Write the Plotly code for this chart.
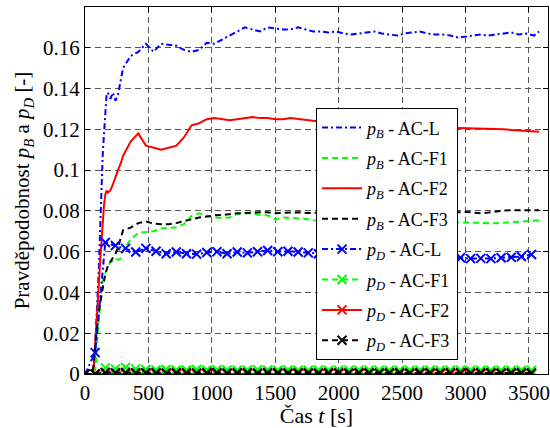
import plotly.graph_objects as go

# ---------------- data ----------------
t_B = [0, 50, 60, 70, 80, 90, 100, 110, 120, 130, 140, 150, 160, 170, 180, 200, 220, 240, 260, 280,
       300, 360, 420, 480, 540, 600, 660, 720, 780, 840, 900, 960, 1020, 1080, 1140, 1200, 1260, 1320,
       1380, 1440, 1500, 1560, 1620, 1680, 1740, 1800, 1860, 1920, 1980, 2040, 2100, 2160, 2220, 2280,
       2340, 2400, 2460, 2520, 2580, 2640, 2700, 2760, 2820, 2880, 2940, 3000, 3060, 3120, 3180, 3240,
       3300, 3360, 3420, 3480, 3540, 3580]

pB_L = [0, 0, 0.001, 0.004, 0.013, 0.025, 0.038, 0.053, 0.072, 0.097, 0.108, 0.118, 0.128, 0.137, 0.138,
        0.135, 0.138, 0.134, 0.137, 0.144, 0.150, 0.156, 0.158, 0.162, 0.158, 0.162, 0.1615, 0.161, 0.159,
        0.158, 0.159, 0.1625, 0.162, 0.164, 0.166, 0.168, 0.170, 0.169, 0.168, 0.170, 0.1695, 0.169, 0.169,
        0.170, 0.169, 0.168, 0.168, 0.1675, 0.168, 0.167, 0.1665, 0.167, 0.1675, 0.168, 0.167, 0.1665, 0.166,
        0.167, 0.1675, 0.168, 0.167, 0.1665, 0.1665, 0.166, 0.165, 0.1655, 0.166, 0.1665, 0.166, 0.1665,
        0.167, 0.1675, 0.1665, 0.167, 0.166, 0.168]

pB_F1 = [0, 0, 0, 0, 0.002, 0.008, 0.019, 0.028, 0.036, 0.042, 0.046, 0.048, 0.050, 0.051, 0.052,
         0.055, 0.0555, 0.0566, 0.056, 0.0565, 0.0606, 0.066, 0.0692, 0.0695, 0.070, 0.0714, 0.0718, 0.072,
         0.0735, 0.0775, 0.0788, 0.0775, 0.0768, 0.0765, 0.0768, 0.0785, 0.0788, 0.0788, 0.078, 0.0778,
         0.0758, 0.0768, 0.0766, 0.0764, 0.076, 0.0754, 0.0752, 0.075, 0.0748, 0.0748, 0.0747, 0.0746,
         0.0746, 0.0745, 0.0745, 0.0744, 0.0744, 0.0744, 0.0744, 0.0744, 0.0744, 0.0744, 0.0744, 0.0744,
         0.0744, 0.0743, 0.0742, 0.0741, 0.074, 0.0739, 0.0742, 0.0745, 0.0748, 0.0751, 0.0753, 0.0754]

pB_F2 = [0, 0, 0, 0.004, 0.013, 0.022, 0.033, 0.045, 0.056, 0.066, 0.076, 0.083, 0.088, 0.090, 0.089,
         0.090, 0.093, 0.097, 0.100, 0.103, 0.107, 0.114, 0.118, 0.112, 0.111, 0.110, 0.111, 0.112, 0.116,
         0.122, 0.123, 0.125, 0.1255, 0.125, 0.1245, 0.125, 0.1255, 0.126, 0.1255, 0.1255, 0.125, 0.125,
         0.1255, 0.125, 0.1245, 0.124, 0.1237, 0.1235, 0.123, 0.123, 0.1228, 0.1225, 0.1222, 0.122, 0.122,
         0.1218, 0.1215, 0.1215, 0.1212, 0.121, 0.121, 0.1208, 0.1208, 0.1207, 0.1207, 0.1206, 0.1205,
         0.1205, 0.1202, 0.120, 0.120, 0.1197, 0.1195, 0.1192, 0.119, 0.1188]

pB_F3 = [0, 0, 0.001, 0.006, 0.014, 0.021, 0.026, 0.031, 0.035, 0.039, 0.043, 0.046, 0.049, 0.051, 0.053,
         0.055, 0.057, 0.059, 0.062, 0.067, 0.0705, 0.0718, 0.074, 0.0748, 0.0738, 0.0735, 0.0735, 0.074,
         0.075, 0.0758, 0.0768, 0.0772, 0.0778, 0.078, 0.0785, 0.0788, 0.079, 0.0793, 0.0793, 0.0793,
         0.0788, 0.079, 0.0793, 0.0793, 0.079, 0.079, 0.0791, 0.0792, 0.0792, 0.0793, 0.0793, 0.0793,
         0.0792, 0.0793, 0.0793, 0.0794, 0.0793, 0.0793, 0.0794, 0.0793, 0.0793, 0.0794, 0.0793, 0.0793,
         0.0793, 0.0795, 0.0792, 0.0788, 0.0792, 0.0798, 0.0802, 0.0803, 0.0802, 0.0804, 0.0803, 0.0803]

t_D = [0, 80, 160, 240, 320, 400, 480, 560, 640, 720, 800, 880, 960, 1040, 1120, 1200, 1280, 1360,
       1440, 1520, 1600, 1680, 1760, 1840, 1920, 2000, 2080, 2160, 2240, 2320, 2400, 2480, 2560, 2640,
       2720, 2800, 2880, 2960, 3040, 3120, 3200, 3280, 3360, 3440, 3520]

pD_L = [0, 0.0105, 0.0645, 0.063, 0.0616, 0.0598, 0.0616, 0.0602, 0.059, 0.0598, 0.059, 0.0588, 0.0596,
        0.060, 0.059, 0.0598, 0.0594, 0.060, 0.0606, 0.060, 0.0602, 0.0598, 0.0594, 0.059, 0.0588, 0.0586,
        0.0585, 0.0584, 0.0582, 0.058, 0.0579, 0.0578, 0.0577, 0.0576, 0.0575, 0.0574, 0.0572, 0.057,
        0.0566, 0.0567, 0.0566, 0.057, 0.0572, 0.0576, 0.0586]

pD_F1 = [0, 0, 0.003, 0.0025, 0.0032, 0.0025, 0.0022, 0.002, 0.0022, 0.002, 0.002, 0.0022, 0.002, 0.0021,
         0.002, 0.0019, 0.002, 0.0021, 0.002, 0.0019, 0.002, 0.0019, 0.0019, 0.002, 0.0019, 0.0019, 0.0018,
         0.0019, 0.0019, 0.0018, 0.0019, 0.0018, 0.0018, 0.0019, 0.0018, 0.0018, 0.0018, 0.0019, 0.0018,
         0.0018, 0.0018, 0.0019, 0.0018, 0.0018, 0.0018]

pD_F2 = [0, 0, 0.0002, 0.0001, 0.0001, 0.0001, 0.0001, 0.0001, 0.0001, 0.0001, 0.0001, 0.0001, 0.0001,
         0.0001, 0.0001, 0.0001, 0.0001, 0.0001, 0.0001, 0.0001, 0.0001, 0.0001, 0.0001, 0.0001, 0.0001,
         0.0001, 0.0001, 0.0001, 0.0001, 0.0001, 0.0001, 0.0001, 0.0001, 0.0001, 0.0001, 0.0001, 0.0001,
         0.0001, 0.0001, 0.0001, 0.0001, 0.0001, 0.0001, 0.0001, 0.0001]

pD_F3 = [0, 0, 0.0008, 0.0006, 0.0007, 0.0006, 0.0006, 0.0006, 0.0005, 0.0006, 0.0006, 0.0005, 0.0006,
         0.0006, 0.0005, 0.0006, 0.0006, 0.0005, 0.0006, 0.0006, 0.0005, 0.0006, 0.0006, 0.0005, 0.0006,
         0.0006, 0.0005, 0.0006, 0.0006, 0.0005, 0.0006, 0.0006, 0.0005, 0.0006, 0.0006, 0.0005, 0.0006,
         0.0006, 0.0005, 0.0006, 0.0006, 0.0005, 0.0006, 0.0006, 0.0005]

x_ticks = [0, 500, 1000, 1500, 2000, 2500, 3000, 3500]
x_ticklabels = ["0", "500", "1000", "1500", "2000", "2500", "3000", "3500"]
y_ticks = [0, 0.02, 0.04, 0.06, 0.08, 0.1, 0.12, 0.14, 0.16]
y_ticklabels = ["0", "0.02", "0.04", "0.06", "0.08", "0.1", "0.12", "0.14", "0.16"]

# ---------------- styling ----------------
FONT = "Liberation Serif"
BLUE, GREEN, RED, BLACK = "#0000ff", "#00ff00", "#ff0000", "#000000"
DASHDOT = "6px,3px,2px,3px"
DASH = "6px,4px"

def name(sub, label):
    return "<i>p</i><sub><i>%s</i></sub> - %s" % (sub, label)

fig = go.Figure()

b_series = [(pB_L, BLUE, DASHDOT, "AC-L"), (pB_F1, GREEN, DASH, "AC-F1"),
            (pB_F2, RED, "solid", "AC-F2"), (pB_F3, BLACK, DASH, "AC-F3")]
for i, (vals, col, dash, lab) in enumerate(b_series):
    fig.add_trace(go.Scatter(x=t_B, y=vals, mode="lines", name=name("B", lab),
                             legendgroup="b%d" % i,
                             line=dict(color=col, width=2, dash=dash)))

d_series = [(pD_L, BLUE, DASHDOT, "AC-L"), (pD_F1, GREEN, DASH, "AC-F1"),
            (pD_F2, RED, "solid", "AC-F2"), (pD_F3, BLACK, DASH, "AC-F3")]
for i, (vals, col, dash, lab) in enumerate(d_series):
    fig.add_trace(go.Scatter(x=t_D, y=vals, mode="lines+markers", name=name("D", lab),
                             legendgroup="d%d" % i,
                             line=dict(color=col, width=2, dash=dash),
                             marker=dict(symbol="x-thin", size=9, color=col,
                                         line=dict(width=2, color=col))))

axis_common = dict(showline=True, linecolor="black", linewidth=1, mirror="ticks",
                   ticks="inside", ticklen=5, tickcolor="black",
                   showgrid=True, gridcolor="#555555", gridwidth=1, griddash=DASH,
                   zeroline=False, automargin=False,
                   tickfont=dict(family=FONT, size=21, color="black"))

fig.update_layout(
    width=550, height=428,
    margin=dict(l=85, r=2, t=7, b=54),
    paper_bgcolor="white", plot_bgcolor="white",
    font=dict(family=FONT, color="black"),
    showlegend=True,
    legend=dict(x=0.499, y=0.724, xanchor="left", yanchor="top",
                bgcolor="white", bordercolor="black", borderwidth=1,
                font=dict(family=FONT, size=18, color="black"),
                itemwidth=40, tracegroupgap=4),
    xaxis=dict(range=[0, 3650], tickvals=x_ticks, ticktext=x_ticklabels,
               title=dict(text="Čas <i>t</i> [s]", font=dict(family=FONT, size=22), standoff=4),
               **axis_common),
    yaxis=dict(range=[0, 0.18], tickvals=y_ticks, ticktext=y_ticklabels,
               title=dict(text="Pravděpodobnost <i>p</i><sub><i>B</i></sub> a <i>p</i><sub><i>D</i></sub> [-]",
                          font=dict(family=FONT, size=21), standoff=7),
               **axis_common),
)

fig.write_html("out.html", config={"displayModeBar": False},
               post_script="document.body.style.margin='0px';document.body.style.overflow='hidden';")
